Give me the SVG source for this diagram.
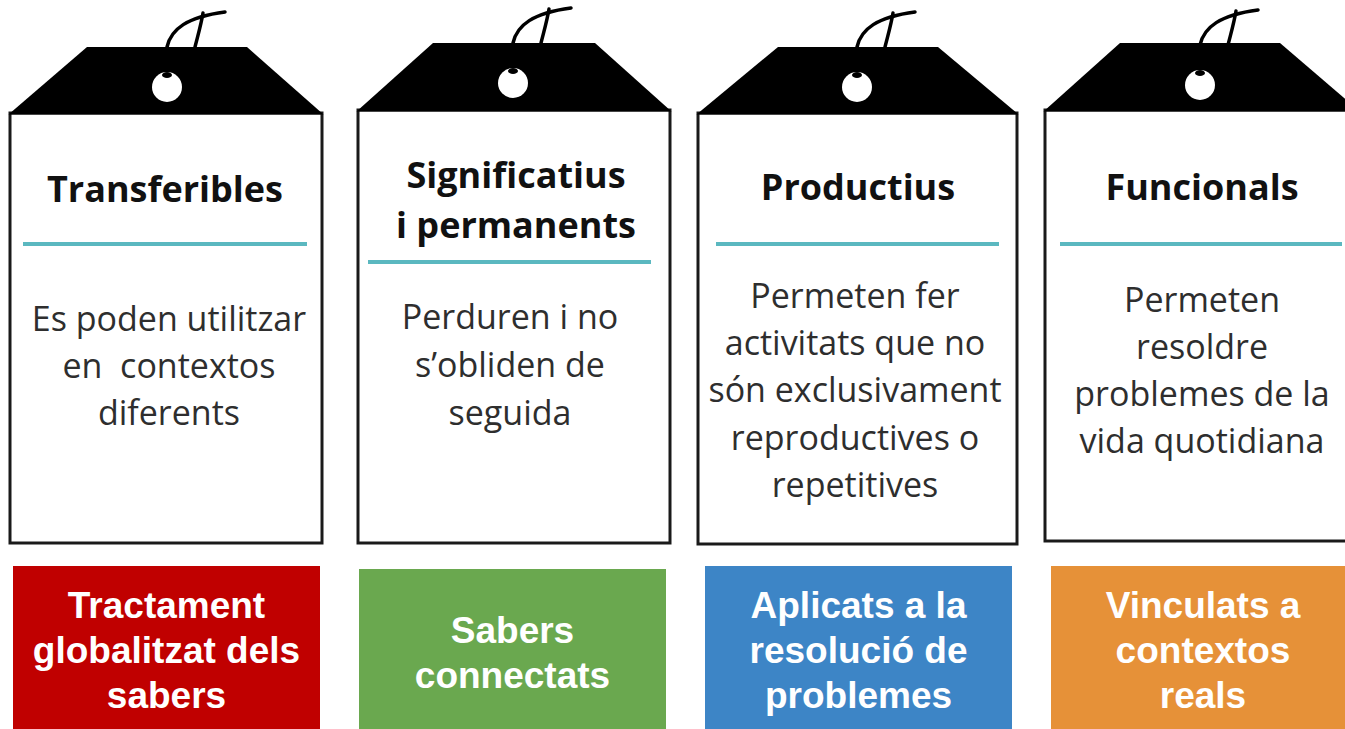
<svg xmlns="http://www.w3.org/2000/svg" width="1345" height="729" viewBox="0 0 1345 729">
<defs>
<style>
.body{fill:#fff;stroke:#1a1a1a;stroke-width:3}
.top{fill:#000}
.hole{fill:#fff}
.knot{fill:#000}
.str{fill:none;stroke:#000;stroke-width:3.5;stroke-linecap:round}
.rule{stroke:#5bb8c0;stroke-width:4}
.hd{font-family:"Open Sans","DejaVu Sans",sans-serif;font-weight:700;font-size:36px;fill:#111;text-anchor:middle}
.tx{font-family:"Open Sans","DejaVu Sans",sans-serif;font-size:34px;fill:#2e2e2e;text-anchor:middle}
.lb{font-family:"Liberation Sans",Arial,sans-serif;font-weight:700;font-size:37px;fill:#fff;text-anchor:middle}
</style>
<g id="tagtop">
<path class="str" d="M0,-40 C4,-58 20,-70 58,-75"/>
<path class="str" d="M28,-40 C31,-52 34,-62 36,-74"/>
<circle class="hole" cx="0" cy="0" r="15"/>
<ellipse class="knot" cx="0" cy="-12" rx="5" ry="3"/>
</g>
</defs>
<rect width="1345" height="729" fill="#fff"/>

<g id="tag1">
<rect class="body" x="10" y="113" width="312" height="430"/>
<polygon class="top" points="87,47 247,47 323.5,114.5 8.5,114.5"/>
<use href="#tagtop" x="167" y="87"/>
<text class="hd" x="165" y="202">Transferibles</text>
<line class="rule" x1="23" y1="244" x2="307" y2="244"/>
<text class="tx" x="169" y="331">Es poden utilitzar</text>
<text class="tx" x="169" y="378">en&#160; contextos</text>
<text class="tx" x="169" y="425">diferents</text>
</g>

<g id="tag2">
<rect class="body" x="358" y="110" width="312" height="433"/>
<polygon class="top" points="433,43 595,43 671.5,111.5 356.5,111.5"/>
<use href="#tagtop" x="513" y="83"/>
<text class="hd" x="516" y="188">Significatius</text>
<text class="hd" x="516" y="238">i permanents</text>
<line class="rule" x1="368" y1="262" x2="651" y2="262"/>
<text class="tx" x="510" y="329">Perduren i no</text>
<text class="tx" x="510" y="377">s’obliden de</text>
<text class="tx" x="510" y="425">seguida</text>
</g>

<g id="tag3">
<rect class="body" x="698" y="113" width="319" height="431"/>
<polygon class="top" points="778,47 938,47 1018.5,114.5 696.5,114.5"/>
<use href="#tagtop" x="857" y="87"/>
<text class="hd" x="858" y="200">Productius</text>
<line class="rule" x1="716" y1="244" x2="999" y2="244"/>
<text class="tx" x="855" y="308">Permeten fer</text>
<text class="tx" x="855" y="355">activitats que no</text>
<text class="tx" x="855" y="402">són exclusivament</text>
<text class="tx" x="855" y="450">reproductives o</text>
<text class="tx" x="855" y="497">repetitives</text>
</g>

<g id="tag4">
<rect class="body" x="1045" y="110" width="320" height="431"/>
<polygon class="top" points="1120,43 1280,43 1360,111.5 1043.5,111.5"/>
<use href="#tagtop" x="1200" y="85"/>
<text class="hd" x="1202" y="200">Funcionals</text>
<line class="rule" x1="1060" y1="244" x2="1342" y2="244"/>
<text class="tx" x="1202" y="312">Permeten</text>
<text class="tx" x="1202" y="359">resoldre</text>
<text class="tx" x="1202" y="406">problemes de la</text>
<text class="tx" x="1202" y="453">vida quotidiana</text>
</g>

<g id="box1">
<rect x="13" y="566" width="307" height="163" fill="#c00000"/>
<text class="lb" x="166.5" y="618">Tractament</text>
<text class="lb" x="166.5" y="663">globalitzat dels</text>
<text class="lb" x="166.5" y="708">sabers</text>
</g>
<g id="box2">
<rect x="359" y="569" width="307" height="160" fill="#6aa84f"/>
<text class="lb" x="512.5" y="643">Sabers</text>
<text class="lb" x="512.5" y="688">connectats</text>
</g>
<g id="box3">
<rect x="705" y="566" width="307" height="163" fill="#3d85c6"/>
<text class="lb" x="858.5" y="618">Aplicats a la</text>
<text class="lb" x="858.5" y="663">resolució de</text>
<text class="lb" x="858.5" y="708">problemes</text>
</g>
<g id="box4">
<rect x="1051" y="566" width="300" height="163" fill="#e69138"/>
<text class="lb" x="1203" y="618">Vinculats a</text>
<text class="lb" x="1203" y="663">contextos</text>
<text class="lb" x="1203" y="708">reals</text>
</g>
<g id="connectors"/>
</svg>
